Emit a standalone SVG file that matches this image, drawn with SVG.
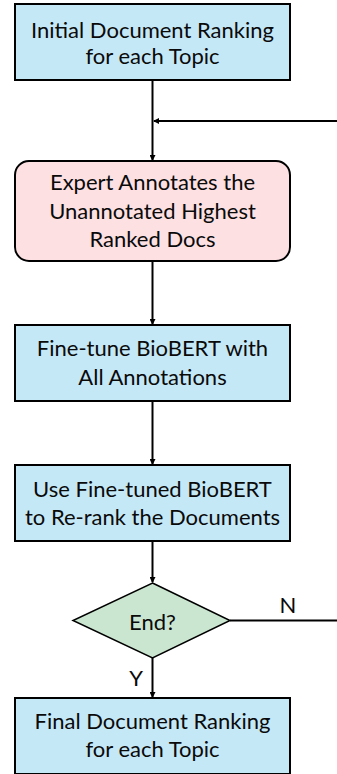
<svg xmlns="http://www.w3.org/2000/svg" width="337" height="774" viewBox="0 0 337 774">
<defs>
<marker id="ah" markerWidth="6" markerHeight="6" refX="5" refY="3" orient="auto" markerUnits="userSpaceOnUse">
<path d="M0,0 L6,3 L0,6 Z" fill="#000"/>
</marker>
<style>
.box{fill:#C5E8F7;stroke:#000;stroke-width:2}
.pink{fill:#FCE0E2;stroke:#000;stroke-width:2}
.dia{fill:#CBE6D0;stroke:#000;stroke-width:1.5}
.t{font-family:Lato,"Open Sans",sans-serif;font-size:22px;fill:#0a0a0a;text-anchor:middle}
.c{stroke:#000;stroke-width:2;fill:none}
</style>
</defs>
<g id="n1">
<rect class="box" x="15" y="4" width="275" height="76"/>
<text class="t" x="152.5" y="38">Initial Document Ranking</text>
<text class="t" x="152.5" y="63.5">for each Topic</text>
</g>
<g id="n2">
<rect class="pink" x="15" y="161" width="275" height="100" rx="14"/>
<text class="t" x="152.5" y="190">Expert Annotates the</text>
<text class="t" x="152.5" y="218.5">Unannotated Highest</text>
<text class="t" x="152.5" y="247">Ranked Docs</text>
</g>
<g id="n3">
<rect class="box" x="15" y="325" width="275" height="76"/>
<text class="t" x="152.5" y="356">Fine-tune BioBERT with</text>
<text class="t" x="152.5" y="385">All Annotations</text>
</g>
<g id="n4">
<rect class="box" x="15" y="465" width="275" height="76"/>
<text class="t" x="152.5" y="497">Use Fine-tuned BioBERT</text>
<text class="t" x="152.5" y="525">to Re-rank the Documents</text>
</g>
<g id="n5">
<polygon class="dia" points="152.5,583 230,620.5 152.5,658 73,620.5"/>
<text class="t" x="152.5" y="630">End?</text>
</g>
<g id="n6">
<rect class="box" x="15" y="698" width="275" height="76"/>
<text class="t" x="152.5" y="729">Final Document Ranking</text>
<text class="t" x="152.5" y="757">for each Topic</text>
</g>
<g id="connectors">
<line class="c" x1="152.5" y1="80" x2="152.5" y2="160" marker-end="url(#ah)"/>
<line class="c" x1="337" y1="121" x2="154" y2="121" marker-end="url(#ah)"/>
<line class="c" x1="152.5" y1="261" x2="152.5" y2="324" marker-end="url(#ah)"/>
<line class="c" x1="152.5" y1="401" x2="152.5" y2="464" marker-end="url(#ah)"/>
<line class="c" x1="152.5" y1="541" x2="152.5" y2="582" marker-end="url(#ah)"/>
<line class="c" x1="230" y1="620.5" x2="337" y2="620.5"/>
<line class="c" x1="152.5" y1="658" x2="152.5" y2="697" marker-end="url(#ah)"/>
<text class="t" x="288" y="613">N</text>
<text class="t" x="136" y="686">Y</text>
</g>
</svg>
